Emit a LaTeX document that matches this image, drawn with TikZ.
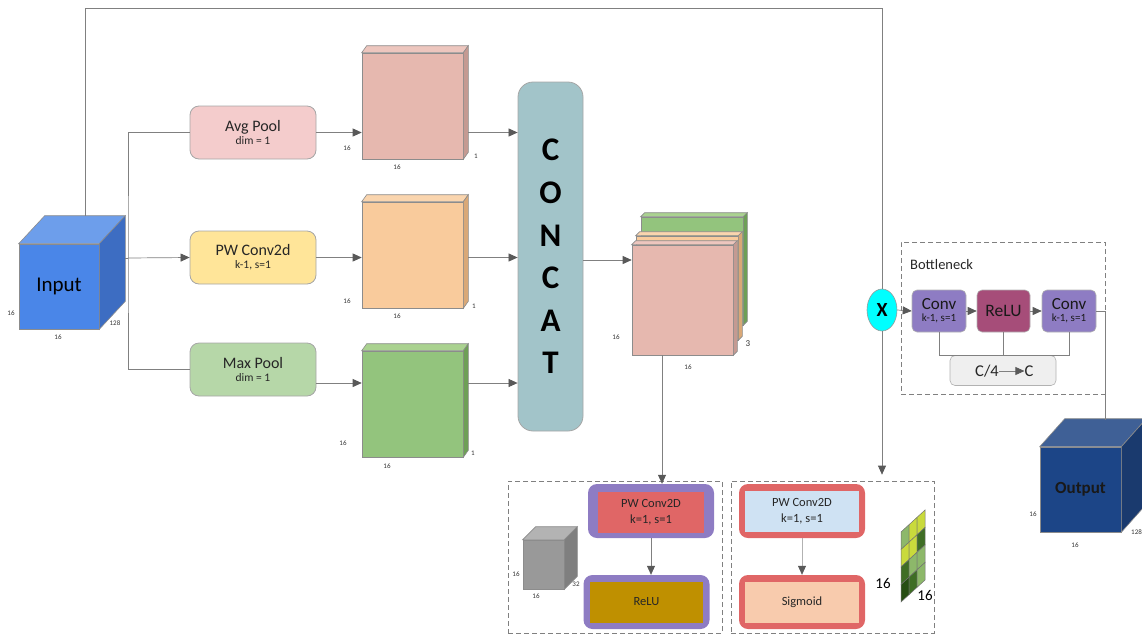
\documentclass[tikz,border=0pt]{standalone}
\usepackage{fontspec}
\setmainfont{Carlito}
\usetikzlibrary{arrows.meta,shapes.geometric}
\definecolor{inF}{HTML}{4A86E8}
\definecolor{inT}{HTML}{6D9EEB}
\definecolor{inS}{HTML}{3D6DC2}
\definecolor{outF}{HTML}{1C4587}
\definecolor{outT}{HTML}{3F6096}
\definecolor{outS}{HTML}{1A3A6E}
\definecolor{pkF}{HTML}{E6B8AF}
\definecolor{pkT}{HTML}{EDC6BE}
\definecolor{pkS}{HTML}{C49A92}
\definecolor{orF}{HTML}{F9CB9C}
\definecolor{orT}{HTML}{FAD5AE}
\definecolor{orS}{HTML}{D9A877}
\definecolor{grF}{HTML}{93C47D}
\definecolor{grT}{HTML}{AAD290}
\definecolor{grS}{HTML}{6E9F57}
\definecolor{avgC}{HTML}{F4CCCC}
\definecolor{pwC}{HTML}{FFE599}
\definecolor{maxC}{HTML}{B6D7A8}
\definecolor{catC}{HTML}{A2C4C9}
\definecolor{purC}{HTML}{8E7CC3}
\definecolor{redC}{HTML}{E06666}
\definecolor{goldC}{HTML}{BF9000}
\definecolor{lbC}{HTML}{CFE2F3}
\definecolor{peC}{HTML}{F8CBAD}
\definecolor{reluC}{HTML}{A64D79}
\definecolor{c4C}{HTML}{EFEFEF}
\definecolor{gyF}{HTML}{999999}
\definecolor{gyT}{HTML}{B3B3B3}
\definecolor{gyS}{HTML}{7F7F7F}
\definecolor{lineC}{HTML}{808080}
\definecolor{tipC}{HTML}{595959}
\definecolor{gLt}{HTML}{8DB86A}
\definecolor{gYe}{HTML}{C9DA3C}
\definecolor{gDk}{HTML}{3F6E25}
\definecolor{gDd}{HTML}{274E13}
\definecolor{cyC}{HTML}{00FFFF}
\newcommand\cubefaces[5]{%
  \draw[cubeedge, fill=#4] (#1.north west) -- ++(#2,#3) -- ([shift={(#2,#3)}]#1.north east) -- (#1.north east) -- cycle;
  \draw[cubeedge, fill=#5] (#1.north east) -- ++(#2,#3) -- ([shift={(#2,#3)}]#1.south east) -- (#1.south east) -- cycle;}
\begin{document}
\begin{tikzpicture}[x=1pt,y=-1pt,
  line/.style={draw=lineC, line width=0.7pt},
  arr/.style={line, -{Triangle[length=9pt,width=8pt,color=tipC]}},
  cubeedge/.style={draw=black!45, line width=0.6pt},
  cube/.style={cubeedge, inner sep=0pt},
  num/.style={font=\fontsize{7}{8}\selectfont, text=black!80, inner sep=0pt},
  opbox/.style={draw=black!35, line width=0.8pt, rounded corners=9pt, minimum width=126pt, minimum height=53pt, align=center, text=black!85, inner sep=0pt},
  bnbox/.style={draw=black!30, line width=0.6pt, rounded corners=5pt, minimum width=54pt, minimum height=42pt, align=center, inner sep=0pt, text=black!90},
  outerbox/.style={draw=none, rounded corners=9pt, minimum width=126pt, minimum height=54pt, inner sep=0pt},
  innerbox/.style={draw=none, minimum width=106pt, minimum height=41pt, align=center, inner sep=0pt, text=black!85, font=\fontsize{12.5}{15}\selectfont},
  dbox/.style={draw=black!50, dashed, dash pattern=on 5pt off 3pt, line width=0.7pt}
]
\useasboundingbox (0,0) rectangle (1142,635);

% ---------- Input cube
\node[cube, fill=inF, minimum width=80pt, minimum height=85pt] (in) at (59,286.5) {\fontsize{21}{21}\selectfont Input};
\cubefaces{in}{26}{-28}{inT}{inS}
\node[num] (inl1) at (11,313) {16};
\node[num] (inl2) at (58,337) {16};
\node[num] (inl3) at (115,323) {128};
\coordinate (intop) at (85,216);
\coordinate (inR) at (125,258);
\coordinate (bx) at (128,258);

% ---------- operation boxes
\node[opbox, fill=avgC] (avg) at (253,132.5) {{\fontsize{16}{18}\selectfont Avg Pool}\\[1pt]{\fontsize{11.5}{13}\selectfont dim = 1}};
\node[opbox, fill=pwC] (pw) at (253,257.5) {{\fontsize{16}{18}\selectfont PW Conv2d}\\[1pt]{\fontsize{11.5}{13}\selectfont k-1, s=1}};
\node[opbox, fill=maxC] (mx) at (253,369.5) {{\fontsize{16}{18}\selectfont Max Pool}\\[1pt]{\fontsize{11.5}{13}\selectfont dim = 1}};

% ---------- slabs
\node[cube, fill=pkF, minimum width=101pt, minimum height=106pt] (s1) at (412.5,106) {};
\cubefaces{s1}{5}{-7}{pkT}{pkS}
\node[cube, fill=orF, minimum width=101pt, minimum height=106pt] (s2) at (412.5,255) {};
\cubefaces{s2}{5}{-7}{orT}{orS}
\node[cube, fill=grF, minimum width=101pt, minimum height=106pt] (s3) at (412.5,404) {};
\cubefaces{s3}{5}{-7}{grT}{grS}
\node[num] (s1a) at (347,148) {16};
\node[num] (s1b) at (397,167) {16};
\node[num] (s1c) at (476,156) {1};
\node[num] (s2a) at (347,301) {16};
\node[num] (s2b) at (397,316) {16};
\node[num] (s2c) at (474,306) {1};
\node[num] (s3a) at (343,443) {16};
\node[num] (s3b) at (387,466) {16};
\node[num] (s3c) at (473,453) {1};

% ---------- concat
\node[draw=black!35, line width=0.8pt, fill=catC, rounded corners=15pt, minimum width=65pt, minimum height=349pt, align=center, inner sep=0pt, font=\fontsize{33}{42.6}\selectfont\bfseries] (cat) at (550.5,256.5)
  {C\\O\\N\\C\\A\\T};

% ---------- stack
\node[cube, fill=grF, minimum width=102pt, minimum height=108pt] (st3) at (692,271) {};
\cubefaces{st3}{4}{-4}{grT}{grS}
\node[cube, fill=orF, minimum width=102pt, minimum height=104pt] (st2) at (687,288) {};
\cubefaces{st2}{4}{-4}{orT}{orS}
\node[cube, fill=pkF, minimum width=101pt, minimum height=110pt] (st1) at (682.5,300) {};
\cubefaces{st1}{4}{-4}{pkT}{pkS}
\node[num] (sta) at (616,337) {16};
\node[num] (stb) at (688,367) {16};
\node[num, font=\fontsize{9}{10}\selectfont] (stc) at (748,344) {3};

% ---------- bottom dashed boxes
\node[dbox, minimum width=214pt, minimum height=152pt, inner sep=0pt] (lbox) at (615,557) {};
\node[dbox, minimum width=203pt, minimum height=152pt, inner sep=0pt] (rbox) at (832.5,557) {};

\node[outerbox, fill=purC] (pwA) at (651,511) {};
\node[innerbox, fill=redC] (pwAi) at (651,512) {PW Conv2D\\[1pt]k=1, s=1};
\node[outerbox, fill=purC] (reA) at (646.5,602) {};
\node[innerbox, fill=goldC, minimum width=113pt] (reAi) at (646.5,602) {ReLU};
\node[outerbox, fill=redC] (pwB) at (802,511) {};
\node[innerbox, fill=lbC, minimum width=114pt] (pwBi) at (802,511.5) {PW Conv2D\\[1pt]k=1, s=1};
\node[outerbox, fill=redC] (sgB) at (802,602) {};
\node[innerbox, fill=peC, minimum width=114pt] (sgBi) at (802,602) {Sigmoid};

% gray cube
\node[cube, fill=gyF, minimum width=41pt, minimum height=49pt] (gc) at (543.5,564.5) {};
\cubefaces{gc}{13}{-13}{gyT}{gyS}
\node[num] (gca) at (516,574) {16};
\node[num] (gcb) at (536,596) {16};
\node[num] (gcc) at (576,584) {32};

% grid
\foreach \i/\j/\c in {0/0/gLt,1/0/gYe,2/0/gYe,0/1/gYe,1/1/gYe,2/1/gDk,0/2/gDk,1/2/gLt,2/2/gLt,0/3/gDd,1/3/gDk,2/3/gLt}{
  \draw[draw=black!55, line width=0.5pt, fill=\c]
    ({901+8*\i},{532-7.33*\i+17.5*\j}) -- ++(8,-7.33) -- ++(0,17.5) -- ++(-8,7.33) -- cycle;
}
\node[font=\fontsize{15}{16}\selectfont, inner sep=0pt] (g16a) at (883,583) {16};
\node[font=\fontsize{15}{16}\selectfont, inner sep=0pt] (g16b) at (925,595) {16};

% ---------- X node
\node[ellipse, draw=black!40, line width=0.6pt, fill=cyC, minimum width=30pt, minimum height=42pt, inner sep=0pt, font=\fontsize{20}{20}\selectfont\bfseries] (xn) at (882,310) {X};

% ---------- bottleneck
\node[dbox, minimum width=204pt, minimum height=152pt, inner sep=0pt] (bn) at (1003,318) {};
\node[anchor=west, inner sep=0pt, font=\fontsize{14.5}{15}\selectfont, text=black!85] (bnl) at (910,265) {Bottleneck};
\node[bnbox, fill=purC] (cv1) at (939,311) {{\fontsize{17}{18}\selectfont Conv}\\[0pt]{\fontsize{11}{12}\selectfont k-1, s=1}};
\node[bnbox, fill=reluC, minimum width=53pt] (rl) at (1003.5,311) {\fontsize{17.5}{18}\selectfont ReLU};
\node[bnbox, fill=purC] (cv2) at (1069,311) {{\fontsize{17}{18}\selectfont Conv}\\[0pt]{\fontsize{11}{12}\selectfont k-1, s=1}};
\node[draw=black!30, line width=0.6pt, fill=c4C, rounded corners=5pt, minimum width=106pt, minimum height=30pt, inner sep=0pt] (c4) at (1003,370.5) {};
\node[inner sep=0pt, font=\fontsize{16.5}{17}\selectfont, text=black!85] (c4a) at (987,371) {C/4};
\node[inner sep=0pt, font=\fontsize{16.5}{17}\selectfont, text=black!85] (c4b) at (1029,371) {C};

% ---------- output cube
\node[cube, fill=outF, minimum width=81pt, minimum height=85pt, font=\fontsize{17}{17}\selectfont\bfseries, text=black!90] (out) at (1080.5,489.5) {Output};
\cubefaces{out}{25}{-28}{outT}{outS}
\node[num] (ol1) at (1033,514) {16};
\node[num] (ol2) at (1075,545) {16};
\node[num, anchor=west] (ol3) at (1131,532) {128};
\coordinate (outtop) at (1105,420);

% ---------- connectors
\coordinate (cx) at (662,0);
\coordinate (skip) at (85,8);
\draw[line] (intop) -- (skip) -| (xn.north);
\draw[arr] (xn.south) -- ([yshift=6pt]xn.south |- rbox.north);
\draw[line] (inR) -- (bx);
\draw[arr] (bx) -- (pw.west);
\draw[line] (avg.west) -| (bx) |- (mx.west);
\draw[arr] (avg.east) -- (avg.east -| s1.west);
\draw[arr] (pw.east) -- (pw.east -| s2.west);
\draw[arr] ([yshift=-13.5pt]mx.east) -- ([yshift=-13.5pt]mx.east -| s3.west);
\draw[arr] ([xshift=5pt]avg.east -| s1.east) -- (avg.east -| cat.west);
\draw[arr] ([xshift=5pt]pw.east -| s2.east) -- (pw.east -| cat.west);
\draw[arr] ([xshift=5pt,yshift=-13.5pt]mx.east -| s3.east) -- ([yshift=-13.5pt]mx.east -| cat.west);
\draw[arr] ([yshift=-2.5pt]cat.east |- pw.east) -- ([yshift=-2.5pt]st1.west |- pw.east);
\draw[arr] (st1.south -| cx) -- (pwA.north -| cx);
\draw[arr] (pwA.south) -- (pwA.south |- reA.north);
\draw[arr, draw=black!30] (pwB.south) -- (pwB.south |- sgB.north);
\draw[arr] (xn.east) -- (cv1.west);
\draw[arr] (cv1.east) -- (rl.west);
\draw[arr] (rl.east) -- (cv2.west);
\draw[arr] (c4a.east) -- (c4b.west);
\draw[line] (cv1.south) |- (cv2.south |- c4.north) -- (cv2.south);
\draw[line] (rl.south) -- (rl.south |- c4.north);
\draw[line] (cv2.east) -| (outtop);
\end{tikzpicture}
\end{document}
